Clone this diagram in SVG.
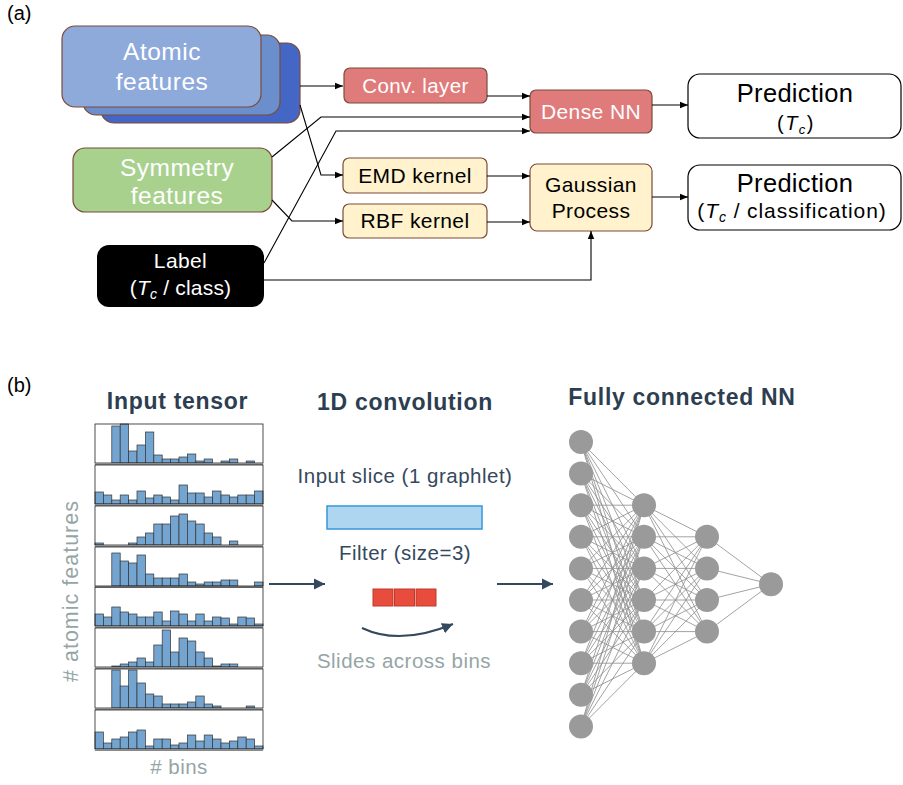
<svg xmlns="http://www.w3.org/2000/svg" width="903" height="785" viewBox="0 0 903 785">
<style>
text{font-family:"Liberation Sans",Arial,sans-serif}
.w{fill:#fff}
.k{fill:#000}
.box{stroke:#7b4b3a;stroke-width:1.2}
.pred{fill:#fff;stroke:#000;stroke-width:1.2}
.con{fill:none;stroke:#000;stroke-width:1.1}
.title{font-weight:bold;font-size:23px;letter-spacing:0.7px;fill:#2c3e50}
.dk{fill:#34495e}
.gr{fill:#95a5a6}
.bar rect{fill:#74a5d0;stroke:#333;stroke-width:0.7}
.bar .frame{fill:none;stroke:#222;stroke-width:0.8}
.axis{stroke:#8a8a8a;stroke-width:2}
.edge{fill:none;stroke:#8c8c8c;stroke-width:0.8}
.node{fill:#9a9a9a}
.barrow{fill:none;stroke:#34495e;stroke-width:2}
.t21{font-size:21px;letter-spacing:0.4px}
.t25{font-size:24.5px;letter-spacing:0.5px}
.tb{font-size:20.5px;letter-spacing:0.5px}
</style>
<defs>
<marker id="ah" markerUnits="userSpaceOnUse" markerWidth="8" markerHeight="8" refX="8" refY="4" orient="auto">
<path d="M0,0.8 L8,4 L0,7.2 z" fill="#000"/>
</marker>
<marker id="bh" markerUnits="userSpaceOnUse" markerWidth="12" markerHeight="12" refX="11" refY="6" orient="auto">
<path d="M0,0.5 L11,6 L0,11.5 z" fill="#34495e"/>
</marker>
</defs>

<text x="7" y="20" font-size="20" class="k">(a)</text>
<text x="7" y="392" font-size="20" class="k">(b)</text>

<!-- Part (a) nodes -->
<g id="atomic">
<rect class="box" x="101" y="43" width="199" height="80" rx="13" fill="#4466c4"/>
<rect class="box" x="83" y="35" width="197" height="80" rx="13" fill="#6b8fcc"/>
<rect class="box" x="62" y="26" width="199" height="81" rx="13" fill="#8eaadb"/>
<text class="w t25" x="162" y="60" text-anchor="middle">Atomic</text>
<text class="w t25" x="162" y="90" text-anchor="middle">features</text>
</g>
<g id="symmetry">
<rect class="box" x="73" y="148" width="199" height="64" rx="12" fill="#a9d18e"/>
<text class="w t25" x="177" y="176" text-anchor="middle">Symmetry</text>
<text class="w t25" x="177" y="204" text-anchor="middle">features</text>
</g>
<g id="label">
<rect x="97" y="245" width="167" height="62" rx="12" fill="#000"/>
<text class="w t21" x="180.5" y="268" text-anchor="middle">Label</text>
<text class="w" x="180.5" y="295" font-size="21" letter-spacing="0.2" text-anchor="middle">(<tspan font-style="italic">T</tspan><tspan font-style="italic" font-size="14" dy="4">c</tspan><tspan dy="-4"> / class)</tspan></text>
</g>
<g id="conv">
<rect class="box" x="344" y="68" width="143" height="35" rx="6" fill="#e07b7b"/>
<text class="w" x="415.5" y="93" font-size="20.5" letter-spacing="0.4" text-anchor="middle">Conv. layer</text>
</g>
<g id="dense">
<rect class="box" x="530" y="90" width="122" height="43" rx="6" fill="#e07b7b"/>
<text class="w t21" x="591" y="119" text-anchor="middle">Dense NN</text>
</g>
<g id="emd">
<rect class="box" x="343" y="158" width="144" height="35" rx="6" fill="#fff2cc"/>
<text class="k t21" x="415" y="183" text-anchor="middle">EMD kernel</text>
</g>
<g id="rbf">
<rect class="box" x="343" y="204" width="144" height="34" rx="6" fill="#fff2cc"/>
<text class="k t21" x="415" y="228" text-anchor="middle">RBF kernel</text>
</g>
<g id="gp">
<rect class="box" x="530" y="164" width="122" height="67" rx="7" fill="#fff2cc"/>
<text class="k t21" x="591" y="192" text-anchor="middle">Gaussian</text>
<text class="k t21" x="591" y="218" text-anchor="middle">Process</text>
</g>
<g id="pred1">
<rect class="pred" x="688" y="74" width="213" height="64" rx="12"/>
<text class="k" x="795" y="102" font-size="25.5" letter-spacing="0.3" text-anchor="middle">Prediction</text>
<text class="k" x="796" y="130" font-size="20" letter-spacing="1.5" text-anchor="middle">(<tspan font-style="italic">T</tspan><tspan font-style="italic" font-size="13" dy="4">c</tspan><tspan dy="-4">)</tspan></text>
</g>
<g id="pred2">
<rect class="pred" x="688" y="165" width="213" height="65" rx="12"/>
<text class="k" x="795" y="192" font-size="25.5" letter-spacing="0.3" text-anchor="middle">Prediction</text>
<text class="k" x="792" y="218" font-size="21" letter-spacing="0.9" text-anchor="middle">(<tspan font-style="italic">T</tspan><tspan font-style="italic" font-size="14" dy="4">c</tspan><tspan dy="-4"> / classification)</tspan></text>
</g>

<g id="connectors-a" class="con">
<path d="M300,86 H343" marker-end="url(#ah)"/>
<path d="M487,96 H530" marker-end="url(#ah)"/>
<path d="M272,157 L321,117 H530" marker-end="url(#ah)"/>
<path d="M264,263 L336,131 H530" marker-end="url(#ah)"/>
<path d="M300,105 L321,175 H343" marker-end="url(#ah)"/>
<path d="M272,200 L292,221 H343" marker-end="url(#ah)"/>
<path d="M487,176 H530" marker-end="url(#ah)"/>
<path d="M487,222 H530" marker-end="url(#ah)"/>
<path d="M264,280 H591 V231" marker-end="url(#ah)"/>
<path d="M652,105 H688" marker-end="url(#ah)"/>
<path d="M652,197 H688" marker-end="url(#ah)"/>
</g>

<!-- Part (b) -->
<text class="title" x="177.5" y="409" text-anchor="middle">Input tensor</text>
<text class="title" x="405" y="410" text-anchor="middle">1D convolution</text>
<text class="title" x="682" y="405" text-anchor="middle">Fully connected NN</text>

<g id="input-tensor">
<g class="bar" transform="translate(95,463)">
<rect x="16.8" y="-37" width="8.4" height="37"/><rect x="25.2" y="-39" width="8.4" height="39"/><rect x="33.6" y="-12" width="8.4" height="12"/><rect x="42" y="-18" width="8.4" height="18"/><rect x="50.4" y="-31" width="8.4" height="31"/><rect x="58.8" y="-8" width="8.4" height="8"/><rect x="67.2" y="-4" width="8.4" height="4"/><rect x="75.6" y="-4" width="8.4" height="4"/><rect x="84" y="-6" width="8.4" height="6"/><rect x="92.4" y="-9" width="8.4" height="9"/><rect x="100.8" y="-2" width="8.4" height="2"/><rect x="109.2" y="-4" width="8.4" height="4"/><rect x="126" y="-2" width="8.4" height="2"/><rect x="134.4" y="-4" width="8.4" height="4"/><rect x="151.2" y="-2" width="8.4" height="2"/>
<rect class="frame" x="0" y="-39" width="168" height="39"/><line class="axis" x1="0" x2="168" y1="1" y2="1"/>
</g>
<g class="bar" transform="translate(95,504)">
<rect x="0" y="-12" width="8.4" height="12"/><rect x="8.4" y="-9" width="8.4" height="9"/><rect x="16.8" y="-4" width="8.4" height="4"/><rect x="25.2" y="-9" width="8.4" height="9"/><rect x="33.6" y="-4" width="8.4" height="4"/><rect x="42" y="-13" width="8.4" height="13"/><rect x="50.4" y="-6" width="8.4" height="6"/><rect x="58.8" y="-9" width="8.4" height="9"/><rect x="67.2" y="-7" width="8.4" height="7"/><rect x="75.6" y="-4" width="8.4" height="4"/><rect x="84" y="-19" width="8.4" height="19"/><rect x="92.4" y="-11" width="8.4" height="11"/><rect x="100.8" y="-11" width="8.4" height="11"/><rect x="109.2" y="-7" width="8.4" height="7"/><rect x="117.6" y="-13" width="8.4" height="13"/><rect x="126" y="-9" width="8.4" height="9"/><rect x="134.4" y="-7" width="8.4" height="7"/><rect x="142.8" y="-9" width="8.4" height="9"/><rect x="151.2" y="-9" width="8.4" height="9"/><rect x="159.6" y="-13" width="8.4" height="13"/>
<rect class="frame" x="0" y="-39" width="168" height="39"/><line class="axis" x1="0" x2="168" y1="1" y2="1"/>
</g>
<g class="bar" transform="translate(95,545)">
<rect x="0" y="-2" width="8.4" height="2"/><rect x="33.6" y="-2" width="8.4" height="2"/><rect x="42" y="-8" width="8.4" height="8"/><rect x="50.4" y="-12" width="8.4" height="12"/><rect x="58.8" y="-21" width="8.4" height="21"/><rect x="67.2" y="-21" width="8.4" height="21"/><rect x="75.6" y="-29" width="8.4" height="29"/><rect x="84" y="-31" width="8.4" height="31"/><rect x="92.4" y="-24" width="8.4" height="24"/><rect x="100.8" y="-21" width="8.4" height="21"/><rect x="109.2" y="-12" width="8.4" height="12"/><rect x="117.6" y="-8" width="8.4" height="8"/><rect x="134.4" y="-4" width="8.4" height="4"/>
<rect class="frame" x="0" y="-39" width="168" height="39"/><line class="axis" x1="0" x2="168" y1="1" y2="1"/>
</g>
<g class="bar" transform="translate(95,586)">
<rect x="16.8" y="-33" width="8.4" height="33"/><rect x="25.2" y="-25" width="8.4" height="25"/><rect x="33.6" y="-23" width="8.4" height="23"/><rect x="42" y="-31" width="8.4" height="31"/><rect x="50.4" y="-12" width="8.4" height="12"/><rect x="58.8" y="-8" width="8.4" height="8"/><rect x="67.2" y="-8" width="8.4" height="8"/><rect x="75.6" y="-8" width="8.4" height="8"/><rect x="84" y="-12" width="8.4" height="12"/><rect x="92.4" y="-4" width="8.4" height="4"/><rect x="100.8" y="-2" width="8.4" height="2"/><rect x="109.2" y="-4" width="8.4" height="4"/><rect x="117.6" y="-4" width="8.4" height="4"/><rect x="126" y="-6" width="8.4" height="6"/><rect x="134.4" y="-6" width="8.4" height="6"/><rect x="159.6" y="-4" width="8.4" height="4"/>
<rect class="frame" x="0" y="-39" width="168" height="39"/><line class="axis" x1="0" x2="168" y1="1" y2="1"/>
</g>
<g class="bar" transform="translate(95,626)">
<rect x="0" y="-12" width="8.4" height="12"/><rect x="8.4" y="-9" width="8.4" height="9"/><rect x="16.8" y="-19" width="8.4" height="19"/><rect x="25.2" y="-14" width="8.4" height="14"/><rect x="33.6" y="-12" width="8.4" height="12"/><rect x="42" y="-9" width="8.4" height="9"/><rect x="50.4" y="-9" width="8.4" height="9"/><rect x="58.8" y="-14" width="8.4" height="14"/><rect x="67.2" y="-5" width="8.4" height="5"/><rect x="75.6" y="-15" width="8.4" height="15"/><rect x="84" y="-12" width="8.4" height="12"/><rect x="92.4" y="-5" width="8.4" height="5"/><rect x="100.8" y="-12" width="8.4" height="12"/><rect x="109.2" y="-5" width="8.4" height="5"/><rect x="117.6" y="-9" width="8.4" height="9"/><rect x="126" y="-8" width="8.4" height="8"/><rect x="134.4" y="-2" width="8.4" height="2"/><rect x="142.8" y="-9" width="8.4" height="9"/><rect x="151.2" y="-8" width="8.4" height="8"/><rect x="159.6" y="-2" width="8.4" height="2"/>
<rect class="frame" x="0" y="-39" width="168" height="39"/><line class="axis" x1="0" x2="168" y1="1" y2="1"/>
</g>
<g class="bar" transform="translate(95,667)">
<rect x="16.8" y="-1" width="8.4" height="1"/><rect x="25.2" y="-3" width="8.4" height="3"/><rect x="33.6" y="-5" width="8.4" height="5"/><rect x="42" y="-9" width="8.4" height="9"/><rect x="50.4" y="-5" width="8.4" height="5"/><rect x="58.8" y="-22" width="8.4" height="22"/><rect x="67.2" y="-37" width="8.4" height="37"/><rect x="75.6" y="-15" width="8.4" height="15"/><rect x="84" y="-29" width="8.4" height="29"/><rect x="92.4" y="-26" width="8.4" height="26"/><rect x="100.8" y="-15" width="8.4" height="15"/><rect x="109.2" y="-9" width="8.4" height="9"/><rect x="117.6" y="-1" width="8.4" height="1"/><rect x="126" y="-3" width="8.4" height="3"/><rect x="134.4" y="-3" width="8.4" height="3"/>
<rect class="frame" x="0" y="-39" width="168" height="39"/><line class="axis" x1="0" x2="168" y1="1" y2="1"/>
</g>
<g class="bar" transform="translate(95,708)">
<rect x="16.8" y="-38" width="8.4" height="38"/><rect x="25.2" y="-22" width="8.4" height="22"/><rect x="33.6" y="-38" width="8.4" height="38"/><rect x="42" y="-25" width="8.4" height="25"/><rect x="50.4" y="-14" width="8.4" height="14"/><rect x="58.8" y="-12" width="8.4" height="12"/><rect x="67.2" y="-4" width="8.4" height="4"/><rect x="75.6" y="-4" width="8.4" height="4"/><rect x="84" y="-4" width="8.4" height="4"/><rect x="92.4" y="-6" width="8.4" height="6"/><rect x="100.8" y="-12" width="8.4" height="12"/><rect x="109.2" y="-4" width="8.4" height="4"/><rect x="117.6" y="-2" width="8.4" height="2"/><rect x="151.2" y="-2" width="8.4" height="2"/>
<rect class="frame" x="0" y="-39" width="168" height="39"/><line class="axis" x1="0" x2="168" y1="1" y2="1"/>
</g>
<g class="bar" transform="translate(95,749)">
<rect x="0" y="-17" width="8.4" height="17"/><rect x="8.4" y="-6" width="8.4" height="6"/><rect x="16.8" y="-10" width="8.4" height="10"/><rect x="25.2" y="-12" width="8.4" height="12"/><rect x="33.6" y="-17" width="8.4" height="17"/><rect x="42" y="-19" width="8.4" height="19"/><rect x="50.4" y="-3" width="8.4" height="3"/><rect x="58.8" y="-10" width="8.4" height="10"/><rect x="67.2" y="-10" width="8.4" height="10"/><rect x="75.6" y="-4" width="8.4" height="4"/><rect x="84" y="-6" width="8.4" height="6"/><rect x="92.4" y="-14" width="8.4" height="14"/><rect x="100.8" y="-8" width="8.4" height="8"/><rect x="109.2" y="-14" width="8.4" height="14"/><rect x="117.6" y="-10" width="8.4" height="10"/><rect x="126" y="-6" width="8.4" height="6"/><rect x="134.4" y="-8" width="8.4" height="8"/><rect x="142.8" y="-12" width="8.4" height="12"/><rect x="151.2" y="-10" width="8.4" height="10"/><rect x="159.6" y="-3" width="8.4" height="3"/>
<rect class="frame" x="0" y="-39" width="168" height="39"/><line class="axis" x1="0" x2="168" y1="1" y2="1"/>
</g>
<text class="gr" font-size="21.5" letter-spacing="1" text-anchor="middle" transform="translate(78,591) rotate(-90)"># atomic features</text>
<text class="gr tb" x="179" y="774" text-anchor="middle"># bins</text>
</g>

<g id="convolution">
<text class="dk tb" x="405" y="483" text-anchor="middle">Input slice (1 graphlet)</text>
<rect x="327" y="506" width="155" height="23" fill="#aed6f1" stroke="#3498db" stroke-width="1.5"/>
<text class="dk tb" x="405" y="560" text-anchor="middle">Filter (size=3)</text>
<rect x="373" y="589" width="20" height="17" fill="#e74c3c" stroke="#c0392b" stroke-width="1"/>
<rect x="394.5" y="589" width="20" height="17" fill="#e74c3c" stroke="#c0392b" stroke-width="1"/>
<rect x="416" y="589" width="20" height="17" fill="#e74c3c" stroke="#c0392b" stroke-width="1"/>
<text class="gr tb" x="404" y="668" text-anchor="middle">Slides across bins</text>
</g>

<g id="connectors-b">
<path class="barrow" d="M269,584 H325" marker-end="url(#bh)"/>
<path class="barrow" d="M497,584 H553" marker-end="url(#bh)"/>
<path class="barrow" d="M362,628 Q400,646 453,624" marker-end="url(#bh)"/>
</g>

<g id="nn">
<path class="edge" d="M581 442L644 505.2M581 473.6L644 505.2M581 505.2L644 505.2M581 536.8L644 505.2M581 568.4L644 505.2M581 600L644 505.2M581 631.6L644 505.2M581 663.2L644 505.2M581 694.8L644 505.2M581 726.4L644 505.2
M581 442L644 536.8M581 473.6L644 536.8M581 505.2L644 536.8M581 536.8L644 536.8M581 568.4L644 536.8M581 600L644 536.8M581 631.6L644 536.8M581 663.2L644 536.8M581 694.8L644 536.8M581 726.4L644 536.8
M581 442L644 568.4M581 473.6L644 568.4M581 505.2L644 568.4M581 536.8L644 568.4M581 568.4L644 568.4M581 600L644 568.4M581 631.6L644 568.4M581 663.2L644 568.4M581 694.8L644 568.4M581 726.4L644 568.4
M581 442L644 600M581 473.6L644 600M581 505.2L644 600M581 536.8L644 600M581 568.4L644 600M581 600L644 600M581 631.6L644 600M581 663.2L644 600M581 694.8L644 600M581 726.4L644 600
M581 442L644 631.6M581 473.6L644 631.6M581 505.2L644 631.6M581 536.8L644 631.6M581 568.4L644 631.6M581 600L644 631.6M581 631.6L644 631.6M581 663.2L644 631.6M581 694.8L644 631.6M581 726.4L644 631.6
M581 442L644 663.2M581 473.6L644 663.2M581 505.2L644 663.2M581 536.8L644 663.2M581 568.4L644 663.2M581 600L644 663.2M581 631.6L644 663.2M581 663.2L644 663.2M581 694.8L644 663.2M581 726.4L644 663.2
M644 505.2L707 536.8M644 536.8L707 536.8M644 568.4L707 536.8M644 600L707 536.8M644 631.6L707 536.8M644 663.2L707 536.8
M644 505.2L707 568.4M644 536.8L707 568.4M644 568.4L707 568.4M644 600L707 568.4M644 631.6L707 568.4M644 663.2L707 568.4
M644 505.2L707 600M644 536.8L707 600M644 568.4L707 600M644 600L707 600M644 631.6L707 600M644 663.2L707 600
M644 505.2L707 631.6M644 536.8L707 631.6M644 568.4L707 631.6M644 600L707 631.6M644 631.6L707 631.6M644 663.2L707 631.6
M707 536.8L771 584.2M707 568.4L771 584.2M707 600L771 584.2M707 631.6L771 584.2"/>
<g class="node">
<circle cx="581" cy="442" r="12"/><circle cx="581" cy="473.6" r="12"/><circle cx="581" cy="505.2" r="12"/><circle cx="581" cy="536.8" r="12"/><circle cx="581" cy="568.4" r="12"/><circle cx="581" cy="600" r="12"/><circle cx="581" cy="631.6" r="12"/><circle cx="581" cy="663.2" r="12"/><circle cx="581" cy="694.8" r="12"/><circle cx="581" cy="726.4" r="12"/>
<circle cx="644" cy="505.2" r="12"/><circle cx="644" cy="536.8" r="12"/><circle cx="644" cy="568.4" r="12"/><circle cx="644" cy="600" r="12"/><circle cx="644" cy="631.6" r="12"/><circle cx="644" cy="663.2" r="12"/>
<circle cx="707" cy="536.8" r="12"/><circle cx="707" cy="568.4" r="12"/><circle cx="707" cy="600" r="12"/><circle cx="707" cy="631.6" r="12"/>
<circle cx="771" cy="584.2" r="12"/>
</g>
</g>
</svg>
